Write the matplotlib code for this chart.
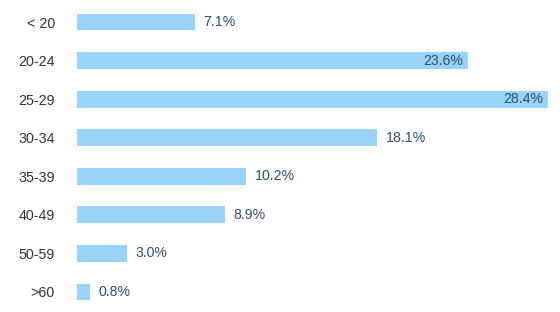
import matplotlib
matplotlib.use("Agg")
import matplotlib.pyplot as plt

categories = ["< 20", "20-24", "25-29", "30-34", "35-39", "40-49", "50-59", ">60"]
values = [7.1, 23.6, 28.4, 18.1, 10.2, 8.9, 3.0, 0.8]
value_labels = ["7.1%", "23.6%", "28.4%", "18.1%", "10.2%", "8.9%", "3.0%", "0.8%"]
inside = [False, True, True, False, False, False, False, False]

plt.rcParams['font.family'] = ['Liberation Sans', 'DejaVu Sans']

W, H = 560, 312
fig = plt.figure(figsize=(W / 100, H / 100), dpi=100)
ax_h = 8 * 38.57
ax_top = 22 - 38.57 / 2
ax = fig.add_axes([77 / W, (H - ax_top - ax_h) / H, 471 / W, ax_h / H])

ypos = list(range(len(categories)))
ax.barh(ypos, values, height=0.44, color="#99d3f9", edgecolor="none")
ax.set_xlim(0, 28.4)
ax.set_ylim(len(categories) - 0.5, -0.5)

ax.set_yticks(ypos)
ax.set_yticklabels(categories, fontsize=10.3, color="#333333")
ax.tick_params(axis='y', length=0, pad=16)
ax.set_xticks([])
for s in ax.spines.values():
    s.set_visible(False)

for y, v, lab, ins in zip(ypos, values, value_labels, inside):
    if ins:
        ax.annotate(lab, (v, y), xytext=(-3.6, 0), textcoords="offset points",
                    ha="right", va="center", fontsize=10.2, color="#2c4f6e")
    else:
        ax.annotate(lab, (v, y), xytext=(6, 0), textcoords="offset points",
                    ha="left", va="center", fontsize=10.2, color="#2c4f6e")

fig.savefig("out.png", dpi=100)
